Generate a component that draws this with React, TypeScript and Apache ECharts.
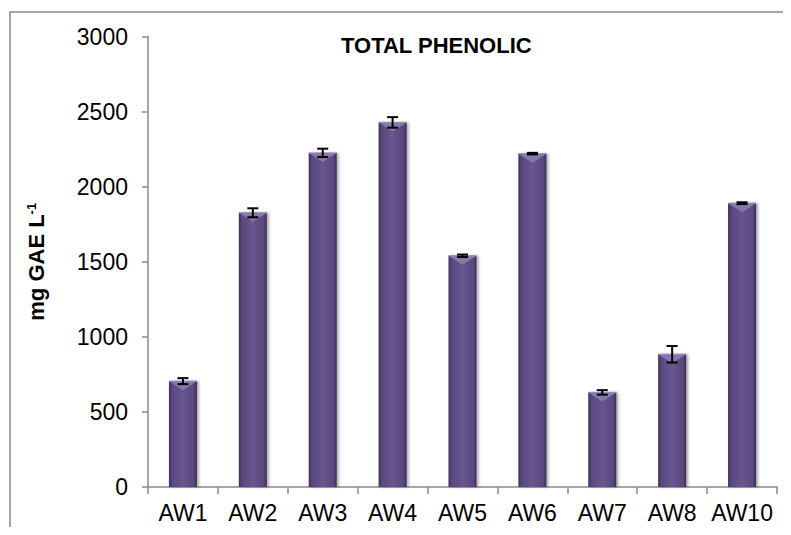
import React, { useEffect, useRef } from "react";
import * as echarts from "echarts";

const categories = ["AW1", "AW2", "AW3", "AW4", "AW5", "AW6", "AW7", "AW8", "AW10"];
const values = [705, 1826, 2225, 2428, 1540, 2220, 630, 884, 1890];
const errors = [20, 30, 28, 35, 8, 5, 15, 55, 6];
const yTicks = { min: 0, max: 3000, interval: 500 };

const FONT = "'Liberation Sans', Arial, sans-serif";

export default function App() {
  const ref = useRef<HTMLDivElement>(null);
  useEffect(() => {
    if (!ref.current) return;
    const chart = echarts.init(ref.current, undefined, { renderer: "svg" });
    const barGradient = new echarts.graphic.LinearGradient(0, 0, 1, 0, [
      { offset: 0, color: "#3e3058" },
      { offset: 0.12, color: "#5a4980" },
      { offset: 0.5, color: "#67568c" },
      { offset: 0.88, color: "#5a4980" },
      { offset: 1, color: "#3b2d55" },
    ]);
    chart.setOption({
      animation: false,
      backgroundColor: "#ffffff",
      title: {
        text: "TOTAL PHENOLIC",
        left: 336,
        top: 29,
        textStyle: { fontFamily: FONT, fontSize: 22, fontWeight: "bold", color: "#000" },
      },
      graphic: [
        {
          type: "rect",
          shape: { x: 10, y: 12, width: 900, height: 700 },
          style: { fill: "none", stroke: "#8a8a8a", lineWidth: 1.5 },
          silent: true,
          z: -1,
        },
      ],
      grid: { left: 148, right: 14, top: 36.5, bottom: 48, containLabel: false },
      xAxis: {
        type: "category",
        data: categories,
        axisLine: { lineStyle: { color: "#8a8a8a", width: 1.5 } },
        axisTick: { show: true, length: 7, alignWithLabel: false, lineStyle: { color: "#8a8a8a", width: 1.5 } },
        axisLabel: { fontFamily: FONT, fontSize: 23, color: "#000", margin: 14, interval: 0 },
      },
      yAxis: {
        type: "value",
        min: yTicks.min,
        max: yTicks.max,
        interval: yTicks.interval,
        name: "mg GAE L{sup|-1}",
        nameLocation: "middle",
        nameRotate: 90,
        nameGap: 100,
        nameTextStyle: {
          fontFamily: FONT,
          fontSize: 22,
          fontWeight: "bold",
          color: "#000",
          rich: {
            sup: { fontFamily: FONT, fontSize: 13, fontWeight: "bold", color: "#000", padding: [0, 0, 10, 0] },
          },
        },
        splitLine: { show: false },
        axisLine: { show: true, lineStyle: { color: "#8a8a8a", width: 1.5 } },
        axisTick: { show: true, length: 6, lineStyle: { color: "#8a8a8a", width: 1.5 } },
        axisLabel: {
          fontFamily: FONT,
          fontSize: 23,
          color: "#000",
          margin: 20,
          formatter: (v: number) => String(v),
        },
      },
      series: [
        {
          type: "bar",
          data: values,
          barWidth: 28,
          itemStyle: {
            color: barGradient,
            shadowBlur: 3,
            shadowColor: "rgba(0,0,0,0.35)",
            shadowOffsetX: 2,
            shadowOffsetY: 0,
          },
          z: 2,
        },
        {
          type: "custom",
          data: values.map((v, i) => [i, v, errors[i]]),
          z: 5,
          renderItem: (params: any, api: any) => {
            const idx = api.value(0);
            const v = api.value(1);
            const e = api.value(2);
            const top = api.coord([idx, v]);
            const hi = api.coord([idx, v + e]);
            const lo = api.coord([idx, v - e]);
            const half = 14;
            const cap = 5.5;
            const cx = top[0];
            return {
              type: "group",
              children: [
                {
                  type: "polygon",
                  shape: { points: [[cx - half, top[1]], [cx + half, top[1]], [cx, top[1] + 9]] },
                  style: { fill: "#8877ad" },
                },
                {
                  type: "line",
                  shape: { x1: cx - half, y1: top[1], x2: cx + half, y2: top[1] },
                  style: { stroke: "#9a8cbd", lineWidth: 1 },
                },
                {
                  type: "line",
                  shape: { x1: cx, y1: hi[1], x2: cx, y2: lo[1] },
                  style: { stroke: "#000", lineWidth: 2 },
                },
                {
                  type: "line",
                  shape: { x1: cx - cap, y1: hi[1], x2: cx + cap, y2: hi[1] },
                  style: { stroke: "#000", lineWidth: 2 },
                },
                {
                  type: "line",
                  shape: { x1: cx - cap, y1: lo[1], x2: cx + cap, y2: lo[1] },
                  style: { stroke: "#000", lineWidth: 2 },
                },
              ],
            };
          },
        },
      ],
    });
    return () => chart.dispose();
  }, []);
  return <div ref={ref} style={{ width: 791, height: 535, margin: -8 }} />;
}
